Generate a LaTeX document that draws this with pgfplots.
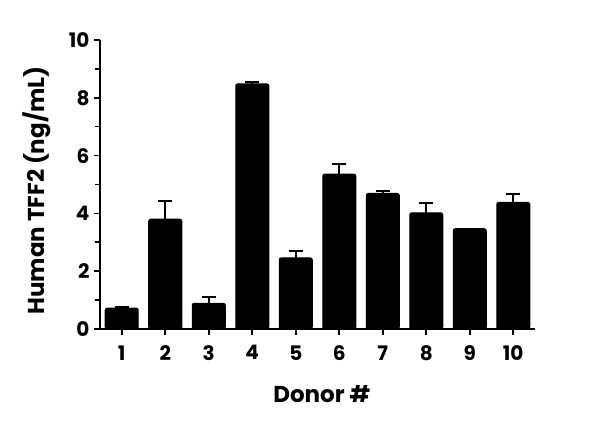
\documentclass[border=0pt]{standalone}
\usepackage{pgfplots}
\pgfplotsset{compat=1.18}
\usepackage{fontspec}
\setmainfont{Poppins}
\begin{document}
\begin{tikzpicture}
\begin{axis}[
  scale only axis,
  width=435pt, height=289pt,
  xmin=0.5, xmax=10.5,
  ymin=0, ymax=10,
  axis lines*=left,
  axis line style={line width=1.6pt, -},
  xtick={1,2,3,4,5,6,7,8,9,10},
  ytick={0,2,4,6,8,10},
  minor y tick num=1,
  tick align=outside,
  major tick length=6pt,
  minor tick length=5pt,
  every tick/.style={black, line width=1.6pt},
  tick label style={font=\fontsize{20}{24}\selectfont\bfseries},
  /pgf/number format/assume math mode=true,
  xticklabel style={yshift=-7pt},
  yticklabel style={xshift=-1pt},
  xlabel={Donor \#},
  ylabel={Human TFF2 (ng/mL)},
  label style={font=\fontsize{23}{27}\selectfont\bfseries},
  xlabel style={at={(axis description cs:0.51,-0.225)}, anchor=center},
  ylabel style={at={(axis description cs:-0.145,0.48)}, anchor=center},
  clip=false,
]
\addplot[ybar, bar width=33pt, fill=black, draw=black, line width=1pt, rounded corners=2pt,
  error bars/.cd, y dir=plus, y explicit,
  error bar style={line width=2pt, black, sharp corners},
  error mark options={line width=2pt, mark size=7pt, rotate=90}]
coordinates {
  (1,0.72) +- (0,0.05)
  (2,3.80) +- (0,0.64)
  (3,0.89) +- (0,0.21)
  (4,8.48) +- (0,0.08)
  (5,2.46) +- (0,0.25)
  (6,5.36) +- (0,0.34)
  (7,4.69) +- (0,0.09)
  (8,4.02) +- (0,0.33)
  (9,3.47) +- (0,0)
  (10,4.38) +- (0,0.28)
};
\coordinate (o) at (rel axis cs:0,0);
\end{axis}
\path[use as bounding box] (o) ++(-100pt,-98pt) rectangle ++(600pt,427pt);
\end{tikzpicture}
\end{document}
